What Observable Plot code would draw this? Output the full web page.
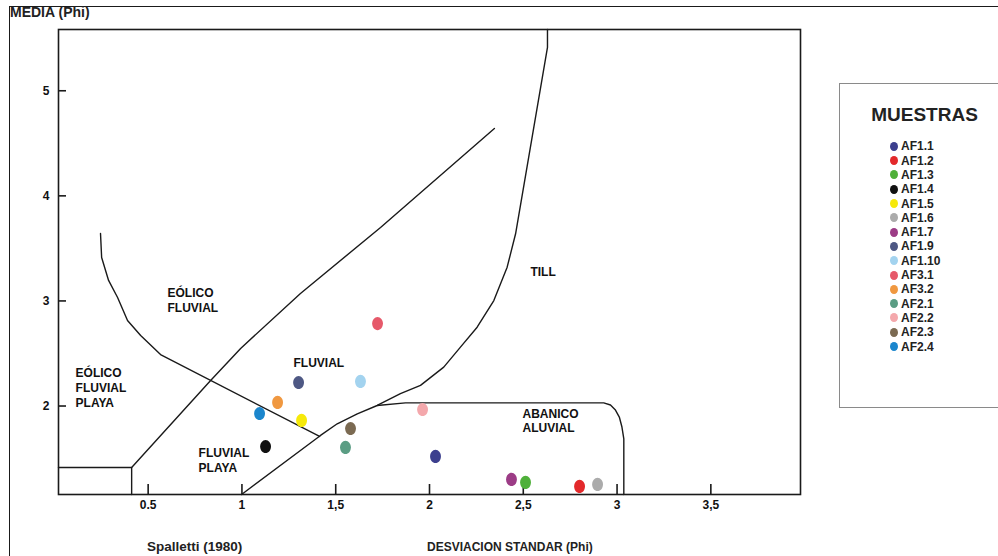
<!DOCTYPE html>
<html>
<head>
<meta charset="utf-8">
<script src="https://cdn.jsdelivr.net/npm/d3@7"></script>
<script src="https://cdn.jsdelivr.net/npm/@observablehq/plot@0.6"></script>
<style>
  html, body { margin: 0; padding: 0; background: #fff; }
  body { width: 998px; height: 556px; overflow: hidden; position: relative;
         font-family: "Liberation Sans", Arial, sans-serif; color: #111; }
  #chart { position: absolute; left: 0; top: 0; }
  #outer { position: absolute; left: 9px; top: 6px; width: 1100px; height: 700px;
           border-top: 1.6px solid #1a1a1a; border-left: 1.6px solid #1a1a1a; }
  .lbl { position: absolute; font-weight: bold; white-space: nowrap; }
  #legend { position: absolute; left: 839px; top: 83px; width: 190px; height: 323px;
            border: 1px solid #8a8a8a; background: #fff; }
  #legend .title { position: absolute; left: 0; width: 169px; top: 21px; text-align: center;
                   font-size: 19px; line-height: 19px; font-weight: bold; color: #222; }
  #legend .item { position: absolute; left: 0; height: 14px; font-size: 12px; line-height: 14px;
                  font-weight: bold; color: #222; }
  #legend .dot { position: absolute; width: 8px; height: 9px; border-radius: 50%; }
</style>
</head>
<body>
<div id="outer"></div>
<div id="chart"></div>
<div class="lbl" style="left:10px;top:4px;font-size:14px;line-height:16px;color:#222;">MEDIA (Phi)</div>
<div class="lbl" style="left:147px;top:539px;font-size:13.5px;line-height:16px;color:#222;">Spalletti (1980)</div>
<div class="lbl" style="left:427px;top:540px;font-size:12px;line-height:14px;color:#222;">DESVIACION STANDAR (Phi)</div>
<div id="legend"><div class="title">MUESTRAS</div></div>
<script>
// ---- Data ----
const sampleNames  = ["AF1.1","AF1.2","AF1.3","AF1.4","AF1.5","AF1.6","AF1.7","AF1.9","AF1.10","AF3.1","AF3.2","AF2.1","AF2.2","AF2.3","AF2.4"];
const sampleColors = ["#3c3f8e","#e3292b","#4fb03a","#111111","#f6e90a","#ababab","#9c3c86","#4e5884","#a3d3ef","#e6596a","#f09840","#5b9d84","#f4a8ac","#7b6a52","#1b86cd"];
const stdDev       = [2.032, 2.800, 2.512, 1.126, 1.318, 2.896, 2.437, 1.302, 1.632, 1.723, 1.190, 1.552, 1.963, 1.579, 1.094];
const meanPhi      = [1.520, 1.235, 1.273, 1.615, 1.863, 1.254, 1.301, 2.224, 2.234, 2.785, 2.034, 1.606, 1.967, 1.786, 1.929];

const xTicks      = [0.5, 1, 1.5, 2, 2.5, 3, 3.5];
const xTickLabels = ["0.5", "1", "1,5", "2", "2,5", "3", "3,5"];
const yTicks      = [2, 3, 4, 5];
const yTickLabels = ["2", "3", "4", "5"];

// Field boundaries (Spalletti 1980), in [desviación, media] units
const eolicoBoundary   = [[0.246,3.642],[0.252,3.413],[0.289,3.195],[0.337,3.033],[0.390,2.814],[0.460,2.671],[0.566,2.490],[1.414,1.710]];
const playaBox         = [[0.022,1.415],[0.412,1.415],[0.412,1.158]];
const diagonalBoundary = [[0.412,1.415],[0.833,2.243],[0.993,2.548],[1.312,3.071],[1.739,3.699],[2.346,4.641]];
const tillBoundary     = [[2.629,5.583],[2.629,5.412],[2.459,3.639],[2.414,3.321],[2.343,3.004],[2.254,2.750],[2.165,2.560],[2.076,2.370],[1.952,2.196],[1.845,2.117],[1.721,2.005],[1.615,1.926],[1.508,1.831],[1.419,1.720],[0.998,1.158]];
const abanicoBoundary  = [[1.721,2.005],[1.872,2.030],[2.929,2.030],[2.965,2.010],[2.990,1.965],[3.012,1.895],[3.026,1.800],[3.036,1.688],[3.036,1.158]];

const regionNames = ["EÓLICO\nFLUVIAL", "EÓLICO\nFLUVIAL\nPLAYA", "FLUVIAL", "FLUVIAL\nPLAYA", "TILL", "ABANICO\nALUVIAL"];
const regionX     = [0.603, 0.113, 1.275, 0.769, 2.538, 2.496];
const regionY     = [3.009, 2.177, 2.414, 1.487, 3.280, 1.863];

// ---- Tables built from the arrays ----
const samples = sampleNames.map((name, i) => ({name, x: stdDev[i], y: meanPhi[i]}));
const boundaries = [eolicoBoundary, playaBox, diagonalBoundary, tillBoundary, abanicoBoundary]
  .flatMap((pts, k) => pts.map(([x, y]) => ({k, x, y})));
const regions = regionNames.map((t, i) => ({t, x: regionX[i], y: regionY[i]}));

const ellipse = {
  draw(ctx, size) {
    const r = Math.sqrt(size / Math.PI), rx = r * 0.82, ry = r, c = 0.5523;
    ctx.moveTo(0, -ry);
    ctx.bezierCurveTo(c * rx, -ry, rx, -c * ry, rx, 0);
    ctx.bezierCurveTo(rx, c * ry, c * rx, ry, 0, ry);
    ctx.bezierCurveTo(-c * rx, ry, -rx, c * ry, -rx, 0);
    ctx.bezierCurveTo(-rx, -c * ry, -c * rx, -ry, 0, -ry);
    ctx.closePath();
  }
};

const W = 998, H = 556, mL = 58, mR = 198, mT = 29, mB = 62;
const plot = Plot.plot({
  width: W, height: H,
  marginLeft: mL, marginRight: mR, marginTop: mT, marginBottom: mB,
  style: {fontFamily: '"Liberation Sans", Arial, sans-serif', background: "transparent", color: "#111"},
  x: {domain: [0.022, 3.978]},
  y: {domain: [1.158, 5.583]},
  color: {domain: sampleNames, range: sampleColors},
  marks: [
    Plot.line(boundaries, {x: "x", y: "y", z: "k", stroke: "#1a1a1a", strokeWidth: 1.4, strokeLinejoin: "round"}),
    Plot.frame({stroke: "#1a1a1a", strokeWidth: 1.6}),
    Plot.ruleX(xTicks, {stroke: "#1a1a1a", strokeWidth: 1.6, insetTop: (H - mT - mB) - 10}),
    Plot.ruleY(yTicks, {stroke: "#1a1a1a", strokeWidth: 1.6, insetRight: (W - mL - mR) - 8}),
    Plot.axisX(xTicks, {tickSize: 0, tickPadding: 6, label: null, fontSize: 12, fontWeight: "bold",
      tickFormat: d => xTickLabels[xTicks.indexOf(d)]}),
    Plot.axisY(yTicks, {tickSize: 0, tickPadding: 9, label: null, fontSize: 12, fontWeight: "bold",
      tickFormat: d => yTickLabels[yTicks.indexOf(d)]}),
    Plot.text(regions, {x: "x", y: "y", text: "t", textAnchor: "start", lineAnchor: "middle",
      fontSize: 12, fontWeight: "bold", lineHeight: 1.22, fill: "#111"}),
    Plot.dot(samples, {x: "x", y: "y", fill: "name", r: 6.6, symbol: ellipse, stroke: "none"})
  ]
});
document.getElementById("chart").appendChild(plot);

// ---- Legend built from the same arrays ----
const legend = document.getElementById("legend");
sampleNames.forEach((name, i) => {
  const top = 62.3 + i * 14.3;
  const dot = document.createElement("div");
  dot.className = "dot";
  dot.style.left = (54 - 4) + "px";
  dot.style.top = (top - 4.5) + "px";
  dot.style.background = sampleColors[i];
  legend.appendChild(dot);
  const it = document.createElement("div");
  it.className = "item";
  it.style.left = "61px";
  it.style.top = (top - 7) + "px";
  it.textContent = name;
  legend.appendChild(it);
});
</script>
</body>
</html>
